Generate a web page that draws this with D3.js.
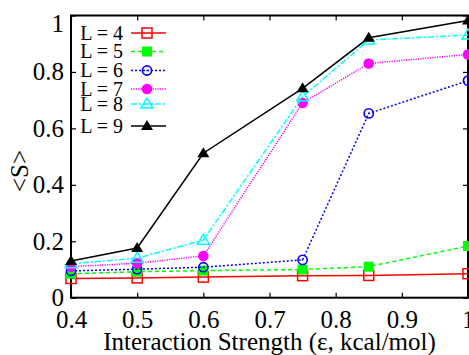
<!DOCTYPE html>
<html><head><meta charset="utf-8">
<script src="https://cdn.jsdelivr.net/npm/d3@7"></script>
<style>body{margin:0;background:#fff}svg{display:block}</style>
</head><body>
<script>
const xs = [0.4, 0.5, 0.6, 0.75, 0.85, 1.0];
const L4 = [0.068, 0.070, 0.073, 0.078, 0.079, 0.085];
const L5 = [0.085, 0.092, 0.096, 0.100, 0.110, 0.183];
const L6 = [0.095, 0.101, 0.108, 0.134, 0.653, 0.769];
const L7 = [0.110, 0.122, 0.148, 0.690, 0.830, 0.862];
const L8 = [0.120, 0.140, 0.204, 0.712, 0.913, 0.931];
const L9 = [0.130, 0.176, 0.512, 0.742, 0.921, 0.982];
const seriesNames = ["L = 4", "L = 5", "L = 6", "L = 7", "L = 8", "L = 9"];
const xTicks = [0.4, 0.5, 0.6, 0.7, 0.8, 0.9, 1];
const yTicks = [0, 0.2, 0.4, 0.6, 0.8, 1];
const xTitle = "Interaction Strength (ε, kcal/mol)";
const yTitle = "<S>";

const W = 469, H = 355;
const m = {l: 71, r: 1, t: 15.5, b: 57.3};
const svg = d3.select("body").append("svg").attr("width", W).attr("height", H);
const x = d3.scaleLinear().domain([0.4, 1]).range([m.l, W - m.r]);
const y = d3.scaleLinear().domain([0, 1]).range([H - m.b, m.t]);
const font = "'Liberation Serif', 'Times New Roman', serif";

const styles = [
  {c: "#ff0000", dash: null, mk: "sqOpen"},
  {c: "#00ff00", dash: "4,3", mk: "sqFill"},
  {c: "#0000ff", dash: "2,2", mk: "circOpen"},
  {c: "#ff00ff", dash: "1.2,1.2", mk: "circFill"},
  {c: "#00ffff", dash: "6,2,2,2", mk: "triOpen"},
  {c: "#000000", dash: null, mk: "triFill"}
];
const data = [L4, L5, L6, L7, L8, L9];

// frame + axes
const g = svg.append("g");
const tickLen = 5;
function styleAxis(sel) {
  sel.select(".domain").remove();
  sel.selectAll(".tick line").attr("stroke", "#000").attr("stroke-width", 1.2);
  sel.selectAll("text").attr("font-family", font).attr("font-size", 25).attr("fill", "#000");
}
const gx = g.append("g").attr("transform", `translate(0,${H - m.b})`)
  .call(d3.axisBottom(x).tickValues(xTicks).tickSize(-tickLen).tickPadding(13).tickFormat(d3.format("")));
styleAxis(gx);
const gxt = g.append("g").attr("transform", `translate(0,${m.t})`)
  .call(d3.axisTop(x).tickValues(xTicks).tickSize(-tickLen).tickFormat(""));
styleAxis(gxt);
const gy = g.append("g").attr("transform", `translate(${m.l},0)`)
  .call(d3.axisLeft(y).tickValues(yTicks).tickSize(-tickLen).tickPadding(7).tickFormat(d3.format("")));
styleAxis(gy);
gy.selectAll(".tick").filter(d => d === 1).select("text").attr("dy", "0.62em");
const gyr = g.append("g").attr("transform", `translate(${W - m.r},0)`)
  .call(d3.axisRight(y).tickValues(yTicks).tickSize(-tickLen).tickFormat(""));
styleAxis(gyr);

svg.append("rect").attr("x", m.l).attr("y", m.t).attr("width", W - m.r - m.l).attr("height", H - m.b - m.t)
  .attr("fill", "none").attr("stroke", "#000").attr("stroke-width", 2);

// titles
svg.append("text").attr("x", (m.l + W - m.r) / 2).attr("y", 350).attr("text-anchor", "middle")
  .attr("font-family", font).attr("font-size", 25).text(xTitle);
svg.append("text").attr("transform", `translate(28,171) rotate(-90)`).attr("text-anchor", "middle")
  .attr("font-family", font).attr("font-size", 25).text(yTitle);

function marker(sel, kind, c) {
  if (kind === "sqOpen") sel.append("rect").attr("x", -5).attr("y", -5).attr("width", 10).attr("height", 10).attr("fill", "none").attr("stroke", c).attr("stroke-width", 1.5);
  if (kind === "sqFill") sel.append("rect").attr("x", -5).attr("y", -5).attr("width", 10).attr("height", 10).attr("fill", c);
  if (kind === "circOpen") { sel.append("circle").attr("r", 4.6).attr("fill", "none").attr("stroke", c).attr("stroke-width", 1.6); sel.append("circle").attr("r", 0.8).attr("fill", c); }
  if (kind === "circFill") sel.append("circle").attr("r", 5.3).attr("fill", c);
  if (kind === "triOpen") sel.append("path").attr("d", "M0,-6L6,4L-6,4Z").attr("fill", "none").attr("stroke", c).attr("stroke-width", 1.5);
  if (kind === "triFill") sel.append("path").attr("d", "M0,-6L6,4L-6,4Z").attr("fill", c);
}

const plot = svg.append("g");
const line = d3.line().x(d => x(d[0])).y(d => y(d[1]));
data.forEach((vals, i) => {
  const pts = xs.map((xv, j) => [xv, vals[j]]);
  const s = styles[i];
  plot.append("path").attr("d", line(pts)).attr("fill", "none").attr("stroke", s.c)
    .attr("stroke-width", 1.5).attr("stroke-dasharray", s.dash);
  pts.forEach(p => {
    const mg = plot.append("g").attr("transform", `translate(${x(p[0])},${y(p[1])})`);
    marker(mg, s.mk, s.c);
  });
});

// legend
const legY = [33, 51.5, 70.5, 89, 104, 126];
const leg = svg.append("g");
seriesNames.forEach((n, i) => {
  const s = styles[i];
  const yy = legY[i];
  leg.append("text").attr("x", 123).attr("y", yy).attr("dy", "0.34em").attr("text-anchor", "end")
    .attr("font-family", font).attr("font-size", 20).text(n);
  leg.append("line").attr("x1", 131).attr("x2", 166).attr("y1", yy).attr("y2", yy)
    .attr("stroke", s.c).attr("stroke-width", 1.5).attr("stroke-dasharray", s.dash);
  const mg = leg.append("g").attr("transform", `translate(147,${yy})`);
  marker(mg, s.mk, s.c);
});
</script>
</body></html>
